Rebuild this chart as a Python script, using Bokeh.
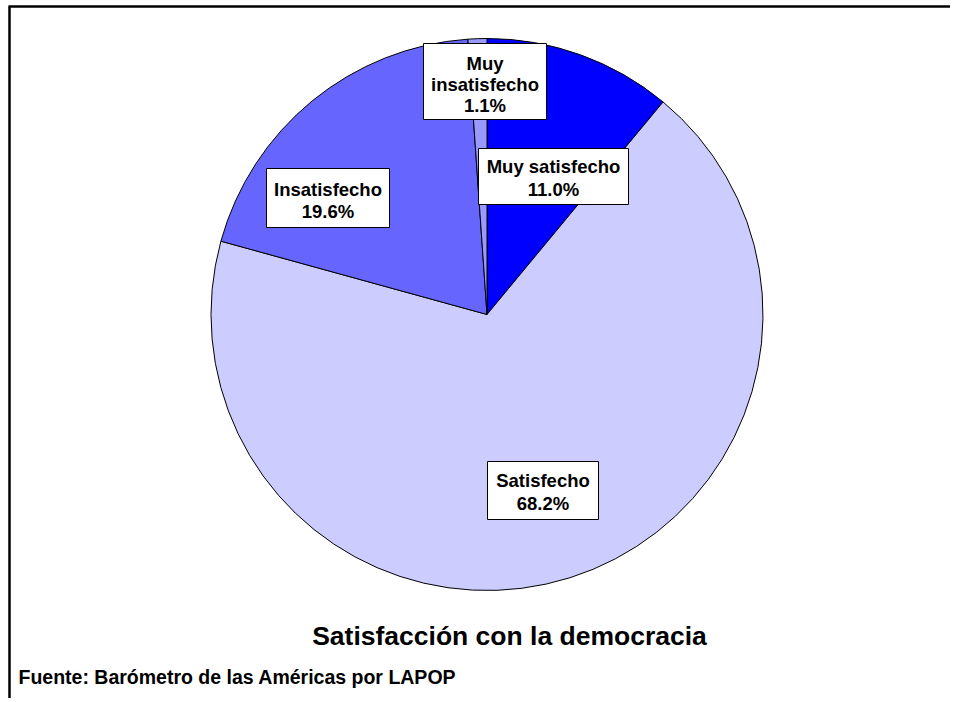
import math
from bokeh.plotting import figure
from bokeh.models import Range1d, ColumnDataSource
from bokeh.core.properties import value
from bokeh.embed import file_html
from bokeh.resources import INLINE

# ---- data ----
categories = ["Muy satisfecho", "Satisfecho", "Insatisfecho", "Muy insatisfecho"]
percents = [11.0, 68.2, 19.6, 1.1]
colors = ["#0000FF", "#CCCCFF", "#6666FF", "#9999FF"]
label_texts = ["Muy satisfecho\n11.0%", "Satisfecho\n68.2%", "Insatisfecho\n19.6%", "Muy\ninsatisfecho\n1.1%"]
title_text = "Satisfacción con la democracia"
source_text = "Fuente: Barómetro de las Américas por LAPOP"

# ---- layout (screen px -> data coords) ----
W, H = 950, 698
def sx(x):
    return x
def sy(y):
    return H - y

p = figure(width=W, height=H, output_backend="svg", toolbar_location=None,
           x_range=Range1d(0, W), y_range=Range1d(0, H), min_border=0)
p.axis.visible = False
p.grid.visible = False
p.outline_line_color = None
p.background_fill_color = "white"
p.border_fill_color = "white"

# frame (left & top edges visible)
p.segment(x0=[sx(9), sx(8)], y0=[0, sy(6)], x1=[sx(9), W], y1=[sy(6), sy(6)],
          line_color="black", line_width=2.5)

# pie
total = sum(percents)
starts, ends = [], []
acc = 0.0
for v in percents:
    starts.append(math.pi / 2 - acc / total * 2 * math.pi)
    acc += v
    ends.append(math.pi / 2 - acc / total * 2 * math.pi)
cx, cy, r = sx(486.5), sy(314), 276
src = ColumnDataSource(dict(start=starts, end=ends, color=colors))
p.wedge(x=cx, y=cy, radius=r, start_angle="start", end_angle="end", direction="clock",
        fill_color="color", line_color="black", line_width=1, source=src)

# label boxes (order matches categories)
box_cx = [553, 542.5, 327.5, 484.5]
box_cy = [176, 490, 197.5, 81]
box_w = [150, 111, 123, 123]
box_h = [56, 58, 59, 76]
txt_cy = [177.5, 491.5, 200, 83.5]
line_h = [1.1, 1.05, 1.05, 1.0]
for i in range(len(categories)):
    p.rect(x=[sx(box_cx[i])], y=[sy(box_cy[i])], width=box_w[i], height=box_h[i],
           fill_color="white", line_color="black", line_width=1)
    p.text(x=[sx(box_cx[i])], y=[sy(txt_cy[i])], text=[label_texts[i]],
           text_font=value("Liberation Sans"), text_font_style="bold", text_font_size="18.5px",
           text_align="center", text_baseline="middle", text_line_height=line_h[i],
           text_color="black")

# title and source
p.text(x=[sx(509)], y=[sy(635)], text=[title_text], text_font=value("Liberation Sans"),
       text_font_style="bold", text_font_size="26.5px", text_align="center",
       text_baseline="middle", text_color="black")
p.text(x=[sx(18)], y=[sy(676)], text=[source_text], text_font=value("Liberation Sans"),
       text_font_style="bold", text_font_size="19.5px", text_align="left",
       text_baseline="middle", text_color="black")

open("out.html", "w").write(file_html(p, INLINE))
